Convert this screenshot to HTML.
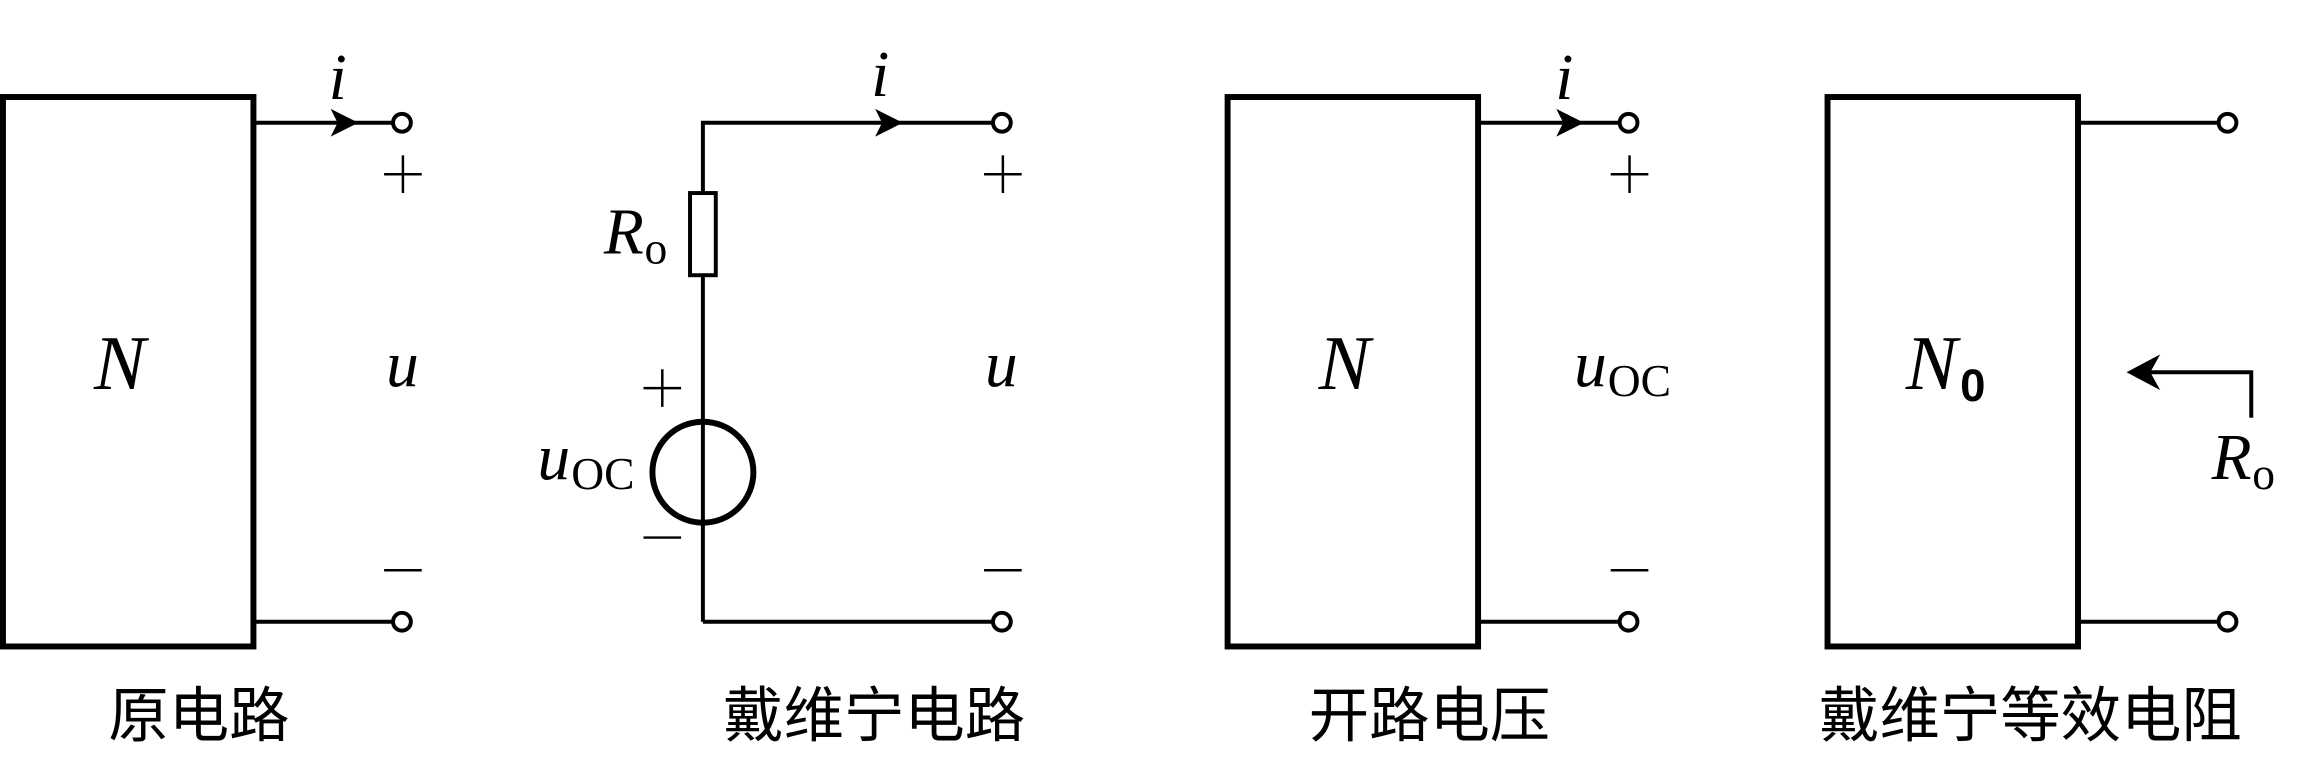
<!DOCTYPE html>
<html><head><meta charset="utf-8"><style>
html,body{margin:0;padding:0;background:#fff;}
svg{display:block}
.m{font-family:"Liberation Serif",serif;font-style:italic;font-size:66px;fill:#000}
.n{font-family:"Liberation Serif",serif;font-style:italic;font-size:78px;fill:#000}
.r{font-family:"Liberation Serif",serif;font-size:46px;fill:#000;font-style:normal}
.c{font-family:"Liberation Sans","Noto Sans CJK SC",sans-serif;font-size:61px;fill:#000}
</style></head><body>
<svg width="2310" height="775" viewBox="0 0 2310 775" xmlns="http://www.w3.org/2000/svg">
<g transform="scale(0.99)">
<g stroke="#000" fill="none">
<rect x="3" y="98" width="253" height="555" stroke-width="6"/>
<line x1="256" y1="124" x2="397" y2="124" stroke-width="4"/>
<line x1="256" y1="628" x2="397" y2="628" stroke-width="4"/>
<circle cx="406" cy="124" r="9" stroke-width="4" fill="#fff"/>
<circle cx="406" cy="628" r="9" stroke-width="4" fill="#fff"/>
<polyline points="1003,124 710,124 710,195" stroke-width="4"/>
<rect x="697" y="195" width="26" height="83" stroke-width="4"/>
<line x1="710" y1="278" x2="710" y2="628" stroke-width="4"/>
<line x1="710" y1="628" x2="1003" y2="628" stroke-width="4"/>
<circle cx="710" cy="477" r="51" stroke-width="6" fill="none"/>
<circle cx="1012" cy="124" r="9" stroke-width="4" fill="#fff"/>
<circle cx="1012" cy="628" r="9" stroke-width="4" fill="#fff"/>
<rect x="1240" y="98" width="253" height="555" stroke-width="6"/>
<line x1="1493" y1="124" x2="1636" y2="124" stroke-width="4"/>
<line x1="1493" y1="628" x2="1636" y2="628" stroke-width="4"/>
<circle cx="1645" cy="124" r="9" stroke-width="4" fill="#fff"/>
<circle cx="1645" cy="628" r="9" stroke-width="4" fill="#fff"/>
<rect x="1846" y="98" width="253" height="555" stroke-width="6"/>
<line x1="2099" y1="124" x2="2241" y2="124" stroke-width="4"/>
<line x1="2099" y1="628" x2="2241" y2="628" stroke-width="4"/>
<circle cx="2250" cy="124" r="9" stroke-width="4" fill="#fff"/>
<circle cx="2250" cy="628" r="9" stroke-width="4" fill="#fff"/>
<polyline points="2274,422 2274,376 2165,376" stroke-width="4"/>
<g stroke-width="2.5">
<path d="M388 176h38M407 157v38"/>
<path d="M388 576h38"/>
<path d="M994 176h38M1013 157v38"/>
<path d="M994 576h38"/>
<path d="M1627 176h38M1646 157v38"/>
<path d="M1627 576h38"/>
<path d="M650 392h38M669 373v38"/>
<path d="M650 543h38"/>
</g>
</g>
<g fill="#000">
<path d="M362 124 L334 110 L341 124 L334 138 Z"/>
<path d="M912 124 L884 110 L891 124 L884 138 Z"/>
<path d="M1600 124 L1572 110 L1579 124 L1572 138 Z"/>
<path d="M2148 376 L2182 358 L2172 376 L2182 394 Z"/>
</g>
<text class="m" x="332" y="100">i</text>
<text class="m" x="880" y="97">i</text>
<text class="m" x="1571" y="100">i</text>
<text class="n" x="95" y="393">N</text>
<text class="n" x="1332" y="393">N</text>
<text class="n" x="1925" y="393">N</text><text x="1980" y="405" style="font-family:'Liberation Sans',sans-serif;font-weight:bold;font-size:46px">0</text>
<text class="m" x="390" y="390">u</text>
<text class="m" x="995" y="390">u</text>
<text class="m" x="1590" y="390">u</text><text class="r" x="1624" y="400">OC</text>
<text class="m" x="543" y="484">u</text><text class="r" x="577" y="494">OC</text>
<text class="m" x="610" y="256">R</text><text class="r" x="651" y="266">o</text>
<text class="m" x="2234" y="484">R</text><text class="r" x="2275" y="494">o</text>
<text class="c" x="201" y="744" text-anchor="middle">原电路</text>
<text class="c" x="883" y="744" text-anchor="middle">戴维宁电路</text>
<text class="c" x="1444" y="744" text-anchor="middle">开路电压</text>
<text class="c" x="2051" y="744" text-anchor="middle">戴维宁等效电阻</text>
</g>
</svg>
</body></html>
